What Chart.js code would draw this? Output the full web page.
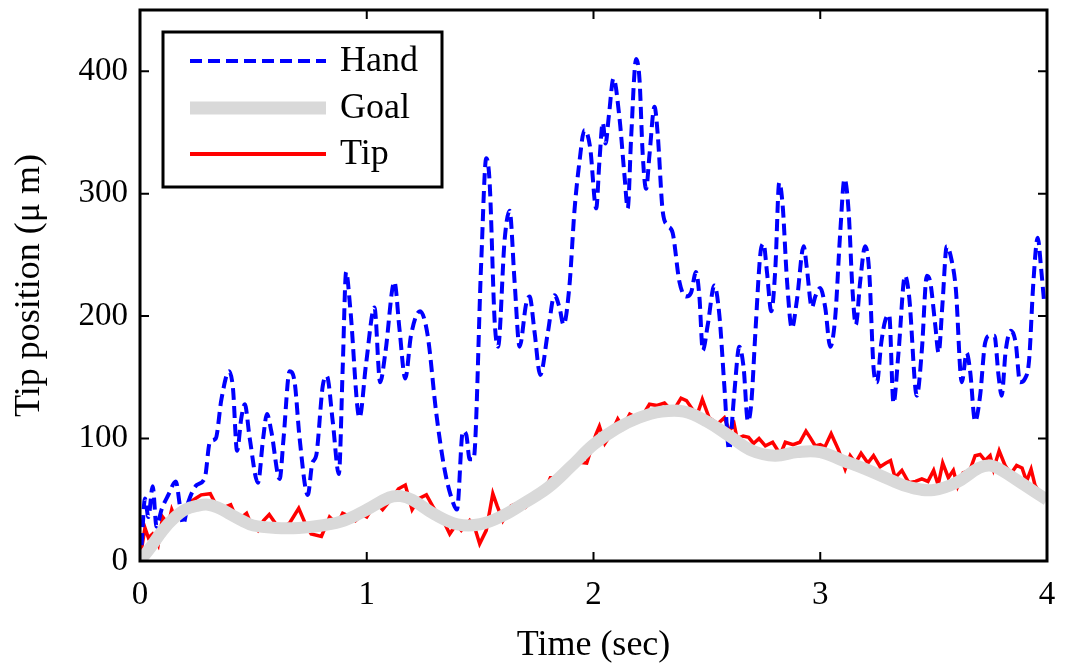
<!DOCTYPE html>
<html lang="en">
<head>
<meta charset="UTF-8">
<title>Tip position</title>
<script src="https://cdn.jsdelivr.net/npm/chart.js"></script>
<style>
  body { margin: 0; background: #fff; }
  canvas { display: block; }
</style>
</head>
<body>
<canvas id="chart" width="1068" height="670"></canvas>
<script>
// Data (time in sec, position in um)
const handT = [0.007,0.022,0.037,0.056,0.073,0.095,0.125,0.158,0.176,0.19,0.213,0.25,0.286,0.308,0.334,0.359,0.393,0.41,0.428,0.447,0.462,0.484,0.52,0.543,0.56,0.579,0.616,0.633,0.66,0.682,0.704,0.74,0.76,0.777,0.806,0.824,0.85,0.877,0.894,0.909,0.927,0.968,0.997,1.034,1.059,1.082,1.122,1.144,1.17,1.195,1.235,1.268,1.307,1.344,1.38,1.398,1.424,1.439,1.454,1.471,1.505,1.527,1.542,1.564,1.579,1.608,1.63,1.652,1.674,1.703,1.718,1.74,1.765,1.799,1.828,1.85,1.868,1.894,1.916,1.938,1.96,1.985,2.012,2.026,2.041,2.053,2.068,2.088,2.115,2.137,2.151,2.166,2.188,2.203,2.217,2.232,2.247,2.269,2.283,2.305,2.327,2.349,2.379,2.408,2.43,2.452,2.467,2.482,2.504,2.533,2.555,2.577,2.598,2.62,2.643,2.662,2.681,2.696,2.714,2.736,2.75,2.765,2.784,2.802,2.819,2.834,2.853,2.875,2.897,2.927,2.941,2.963,2.978,3.0,3.022,3.044,3.066,3.088,3.107,3.125,3.142,3.157,3.176,3.198,3.216,3.235,3.25,3.269,3.286,3.304,3.323,3.345,3.374,3.392,3.426,3.448,3.47,3.485,3.507,3.522,3.539,3.558,3.58,3.598,3.624,3.646,3.661,3.683,3.705,3.727,3.749,3.768,3.786,3.8,3.818,3.841,3.862,3.881,3.903,3.921,3.94,3.959,3.974,3.988];
const handV = [13,51,36,61,28,42,54,65,45,30,48,62,68,97,100,132,155,141,90,117,128,100,64,100,120,106,67,100,155,146,100,54,80,86,143,151,114,71,158,236,207,117,161,207,146,170,228,190,149,184,204,185,120,74,48,42,106,103,83,83,245,329,309,196,175,262,286,228,175,210,216,187,152,187,217,207,193,225,286,326,352,338,288,326,358,341,364,394,361,314,288,346,410,393,332,304,332,371,349,286,274,268,228,216,219,236,216,172,193,225,201,143,91,135,175,158,114,129,187,251,259,236,204,239,309,291,230,190,213,257,239,207,216,223,207,175,199,268,312,286,222,193,228,257,236,158,146,178,196,201,129,170,233,216,135,172,233,228,193,170,210,257,245,222,146,170,155,114,135,178,184,184,152,135,172,188,178,146,149,164,228,264,239,210];

const goalT = [0,0.05,0.1,0.15,0.2,0.25,0.3,0.35,0.4,0.45,0.5,0.6,0.7,0.8,0.9,1.0,1.1,1.15,1.2,1.3,1.4,1.5,1.6,1.7,1.8,1.9,2.0,2.1,2.2,2.3,2.4,2.5,2.6,2.7,2.8,2.9,3.0,3.1,3.2,3.3,3.4,3.5,3.6,3.7,3.75,3.8,3.9,4.0];
const goalV = [0,12,25,35,42,45,46,43,38,33,29,27,27,29,33,42,52,53,50,38,30,30,37,48,60,77,95,108,117,122,122,114,102,90,86,89,89,82,75,67,60,58,64,76,78,74,62,50];

const tipT = [0,0.022,0.037,0.055,0.08,0.1,0.125,0.14,0.16,0.19,0.22,0.245,0.27,0.31,0.335,0.36,0.4,0.43,0.47,0.49,0.52,0.545,0.57,0.6,0.62,0.66,0.7,0.73,0.755,0.8,0.836,0.87,0.894,0.93,0.95,0.98,1.0,1.04,1.07,1.11,1.14,1.17,1.2,1.23,1.263,1.29,1.3,1.33,1.366,1.395,1.417,1.454,1.475,1.498,1.527,1.556,1.575,1.6,1.637,1.674,1.7,1.747,1.79,1.81,1.85,1.88,1.92,1.97,2.01,2.026,2.05,2.075,2.107,2.13,2.16,2.19,2.22,2.247,2.28,2.313,2.35,2.386,2.41,2.44,2.46,2.48,2.51,2.548,2.577,2.6,2.62,2.633,2.66,2.684,2.706,2.73,2.758,2.79,2.824,2.846,2.88,2.91,2.937,2.955,2.978,3.0,3.02,3.048,3.08,3.11,3.132,3.155,3.18,3.21,3.235,3.264,3.29,3.31,3.33,3.36,3.39,3.42,3.448,3.475,3.5,3.52,3.54,3.565,3.587,3.606,3.63,3.66,3.683,3.705,3.727,3.749,3.764,3.789,3.815,3.84,3.866,3.89,3.91,3.93,3.947,3.97,3.985];
const tipV = [2,27,19,22,13,36,30,42,33,40,48,51,54,55,46,43,46,33,39,30,25,33,38,30,26,31,43,30,22,20,36,30,39,36,33,38,36,48,42,51,59,62,42,51,54,45,42,36,22,30,25,33,28,14,25,55,45,33,45,48,44,52,59,68,68,74,81,80,103,110,96,103,116,109,120,117,120,128,127,129,122,133,131,123,121,132,117,112,117,106,112,100,102,101,96,100,94,97,87,97,95,97,106,101,94,95,93,104,91,75,86,80,88,80,86,77,80,82,68,74,64,65,67,65,74,62,80,68,74,61,72,74,86,87,82,86,75,90,78,71,78,76,65,75,62,55,51];

const xTicks = [0, 1, 2, 3, 4];
const yTicks = [0, 100, 200, 300, 400];
const legendLabels = ['Hand', 'Goal', 'Tip'];

const SERIF = "'Liberation Serif', 'Times New Roman', serif";

function toPoints(ts, vs) {
  return ts.map((t, i) => ({ x: t, y: vs[i] }));
}

// MATLAB-like box with inward ticks, plus the legend box
const boxPlugin = {
  id: 'box',
  afterDraw(chart) {
    const ctx = chart.ctx;
    const a = chart.chartArea;
    const xs = chart.scales.x;
    const ys = chart.scales.y;
    ctx.save();
    ctx.strokeStyle = '#000';
    ctx.lineWidth = 2;
    ctx.beginPath();
    xTicks.forEach(v => {
      const px = xs.getPixelForValue(v);
      ctx.moveTo(px, a.bottom); ctx.lineTo(px, a.bottom - 9);
      ctx.moveTo(px, a.top); ctx.lineTo(px, a.top + 9);
    });
    yTicks.forEach(v => {
      const py = ys.getPixelForValue(v);
      ctx.moveTo(a.left, py); ctx.lineTo(a.left + 9, py);
      ctx.moveTo(a.right, py); ctx.lineTo(a.right - 9, py);
    });
    ctx.stroke();
    ctx.lineWidth = 3;
    ctx.strokeRect(a.left, a.top, a.right - a.left, a.bottom - a.top);

    // legend
    const lx = 163, ly = 32, lw = 279, lh = 155;
    ctx.fillStyle = '#fff';
    ctx.fillRect(lx, ly, lw, lh);
    ctx.lineWidth = 3;
    ctx.strokeRect(lx, ly, lw, lh);
    const rows = [61, 108, 154];
    chart.data.datasets.forEach(ds => {
      const i = legendLabels.indexOf(ds.label);
      const y = rows[i];
      ctx.save();
      ctx.strokeStyle = ds.borderColor;
      ctx.lineWidth = ds.label === 'Goal' ? 13 : 4;
      ctx.setLineDash(ds.borderDash || []);
      ctx.beginPath();
      ctx.moveTo(190, y); ctx.lineTo(326, y);
      ctx.stroke();
      ctx.restore();
      ctx.fillStyle = '#000';
      ctx.font = '36px ' + SERIF;
      ctx.textBaseline = 'middle';
      ctx.fillText(ds.label, 340, y + 1);
    });
    ctx.restore();
  }
};

new Chart(document.getElementById('chart'), {
  type: 'line',
  data: {
    datasets: [
      {
        label: 'Goal',
        data: toPoints(goalT, goalV),
        borderColor: '#d9d9d9',
        borderWidth: 12,
        tension: 0.4,
        pointRadius: 0
      },
      {
        label: 'Hand',
        data: toPoints(handT, handV),
        borderColor: '#0000ff',
        borderWidth: 4,
        borderDash: [12, 6],
        cubicInterpolationMode: 'monotone',
        pointRadius: 0
      },
      {
        label: 'Tip',
        data: toPoints(tipT, tipV),
        borderColor: '#ff0000',
        borderWidth: 3.5,
        tension: 0,
        pointRadius: 0
      }
    ]
  },
  options: {
    responsive: false,
    animation: false,
    layout: { padding: { left: 0, top: 10, right: 21, bottom: 0 } },
    plugins: {
      legend: { display: false },
      tooltip: { enabled: false }
    },
    scales: {
      x: {
        type: 'linear',
        min: 0,
        max: 4,
        afterFit(scale) {
          scale.height = 109;
          scale.paddingLeft = 0;
          scale.paddingRight = 0;
        },
        afterBuildTicks(scale) { scale.ticks = xTicks.map(v => ({ value: v })); },
        grid: { display: false, drawTicks: false },
        border: { display: false },
        ticks: { color: '#000', padding: 15, font: { family: SERIF, size: 33 } },
        title: {
          display: true,
          text: 'Time (sec)',
          color: '#000',
          font: { family: SERIF, size: 36 },
          padding: { top: 0, bottom: 3 }
        }
      },
      y: {
        min: 0,
        max: 450,
        afterFit(scale) {
          scale.width = 140;
          scale.paddingTop = 0;
          scale.paddingBottom = 0;
        },
        afterBuildTicks(scale) { scale.ticks = yTicks.map(v => ({ value: v })); },
        grid: { display: false, drawTicks: false },
        border: { display: false },
        ticks: { color: '#000', padding: 12, font: { family: SERIF, size: 33 } },
        title: {
          display: true,
          text: 'Tip position (μ m)',
          color: '#000',
          font: { family: SERIF, size: 36 },
          padding: { top: 8, bottom: 0 }
        }
      }
    }
  },
  plugins: [boxPlugin]
});
</script>
</body>
</html>
